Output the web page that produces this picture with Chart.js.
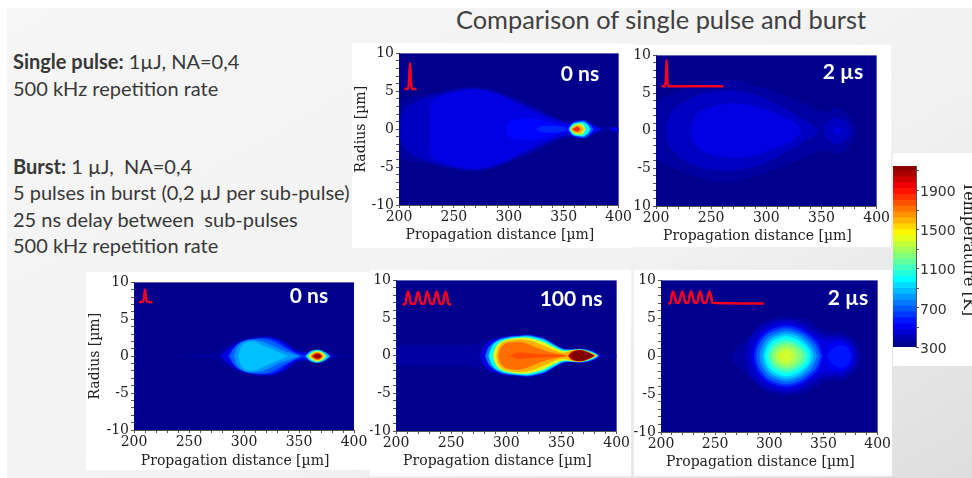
<!DOCTYPE html>
<html>
<head>
<meta charset="utf-8">
<script src="https://cdn.jsdelivr.net/npm/chart.js@4/dist/chart.umd.js"></script>
<style>
html, body { margin: 0; padding: 0; background: #fff; }
#slide { position: absolute; left: 7px; top: 8px; width: 965px; height: 470px; background: linear-gradient(150deg, #f6f6f6 0%, #f2f2f2 60%, #dedede 100%); overflow: hidden; }
#stage { position: absolute; left: 0; top: 0; width: 972px; height: 478px; overflow: hidden; font-family: Lato, sans-serif; color: #383838; }
.card { position: absolute; background: #fff; }
.card canvas { position: absolute; left: 0; top: 0; filter: blur(0.45px); }
.txt { position: absolute; left: 13px; font-size: 20px; line-height: 24px; white-space: pre; }
.tag { position: absolute; color: #fff; font-weight: bold; font-size: 21px; transform: translate(-50%, -50%); white-space: nowrap; }
#title { position: absolute; left: 456px; top: 4px; font-size: 25.4px; line-height: 30px; white-space: pre; color: #404040; }
</style>
</head>
<body>
<div id="stage">
  <div id="slide"></div>
  <div id="title">Comparison of single pulse and burst</div>
  <div class="txt" style="top:49px"><b>Single pulse:</b> 1µJ, NA=0,4</div>
  <div class="txt" style="top:76px">500 kHz repetition rate</div>
  <div class="txt" style="top:154px"><b>Burst:</b> 1 µJ,  NA=0,4</div>
  <div class="txt" style="top:180px">5 pulses in burst (0,2 µJ per sub-pulse)</div>
  <div class="txt" style="top:207px">25 ns delay between  sub-pulses</div>
  <div class="txt" style="top:233px">500 kHz repetition rate</div>
</div>
<script>
// isotherms: temperature [K], distance [um], half width [um]
const single0ns = [
  [360, [200,215,235,255,270,285,300,315,330,345,355,365,375,385,392,400], [3.7,4.3,4.9,5.4,5.55,5.2,4.4,3.5,2.5,1.4,1.1,1.1,.8,.35,.2,.2]],
  [420, [200.5,201,204,210,220,235,255,270,285,300,315,330,345,354,360], [0,1.2,2.3,3.1,3.9,4.6,5.2,5.35,5,4.2,3.2,2.2,1.2,.8,0]],
  [480, [228,228.4,231,240,255,270,285,300,315,330,345,355,362], [0,3.2,3.8,4.4,5,5.2,4.8,3.9,2.8,1.8,1,.6,0]],
  [480, [392,396,400], [0,.3,.15]],
  [540, [297.5,298.5,301,305,315,325,335,345,354], [0,.65,1,1.25,1.4,1.3,1,.55,0]],
  [600, [325,330,340,350,356], [0,.35,.4,.3,0]],
  [540, [352,356,362,368,372,378,384], [0,.7,1.1,1.15,.95,.4,0]],
  [700, [354,358,364,369,373,377], [0,.75,1,1.1,.7,0]],
  [1000, [355,358,363,368,372,374], [0,.65,.85,.9,.5,0]],
  [1350, [356,359,363,367,370], [0,.5,.7,.65,0]],
  [1600, [356.5,360,363,366,368], [0,.4,.5,.4,0]],
  [1850, [358,361,363,365], [0,.25,.3,0]]
];
const single2us = [
  [360, [200,215,235,260,285,312,335,348,355,364,371,376,380,381.4], [3.8,4.9,6,6.75,6.2,4.9,3.5,2.7,2.6,3.05,2.6,1.8,.8,0]],
  [420, [208.7,209.5,212,216,226,237,250,270,297,312,327,338,344.5,347], [0,1,2,2.8,3.9,4.7,5.1,5.3,4.4,3.3,2.05,1.1,.55,0]],
  [420, [352,353,356,360,364,368,372,375,376.5], [0,.7,1.2,1.55,1.7,1.55,1.2,.7,0]],
  [480, [231.5,232.5,235,241,255,270,285,297,310,321,328,331.5], [0,.9,1.7,2.6,3.3,3.6,3.35,2.9,2.2,1.5,.85,0]],
  [480, [361,362,364,366,367.5], [0,.35,.5,.35,0]]
];
const burst0ns = [
  [360, [238,255,272,278,285,292,300,310,320,330,340,349,358,367,378,385,400], [0,.12,.25,.7,1.5,2,2.4,2.6,2.7,2.5,1.8,.9,.6,.9,.45,.15,.1]],
  [480, [279,285,292,300,310,320,330,340,347,358,367,376,382], [0,.9,1.6,2.15,2.45,2.55,2.3,1.5,.7,.5,.8,.3,0]],
  [600, [285,292,300,310,320,330,338,346,355,367,379], [0,1.3,1.95,2.3,2.45,2.1,1.3,.5,.2,.7,0]],
  [700, [287,292,298,305,313,320,328,336,345,352], [0,1.3,1.95,2.25,2.35,2.3,1.9,1.2,.5,0]],
  [800, [291,294,298,303,310,318,326,334,342,350], [0,1.2,1.8,2.1,2.15,1.9,1.4,.8,.4,0]],
  [880, [295,297,300,304,310,316,324,332,340], [0,1.1,1.65,1.9,1.9,1.5,1,.5,0]],
  [900, [356,360,367,374,378], [0,.6,.85,.5,0]],
  [1200, [358,362,367,372,375], [0,.55,.75,.45,0]],
  [1500, [359,363,367,371,373.5], [0,.45,.6,.4,0]],
  [1800, [361,364,367,370,371.5], [0,.35,.45,.3,0]],
  [2100, [363,365,367,369,370], [0,.22,.28,.2,0]]
];
const burst100ns = [
  [360, [200,230,270,278,285,293,301,310,319,327,334,344,352,360,368,380,386,400], [1.3,1.35,1.4,1.8,2.2,2.45,2.6,2.75,2.8,2.65,2.4,1.6,1,.9,.95,.65,.2,.12]],
  [480, [276,280,285,293,301,310,319,327,334,344,352,360,368,379,385], [0,1.2,1.9,2.35,2.55,2.7,2.75,2.6,2.35,1.5,.95,.85,.9,.6,0]],
  [750, [281,284,288,295,303,312,319,327,335,345,352,360,368,378,384], [0,1.1,1.7,2.25,2.5,2.6,2.7,2.5,2.2,1.35,.85,.8,.85,.55,0]],
  [1000, [284,287,291,297,305,312,319,327,335,345,352,360,368,378,383], [0,1.2,1.8,2.15,2.4,2.5,2.55,2.35,2,1.2,.75,.75,.8,.45,0]],
  [1400, [288,290,293,298,306,313,319,327,335,345,352,360,368,377,382], [0,1,1.6,2,2.25,2.35,2.35,2.1,1.7,.95,.6,.7,.75,.35,0]],
  [1600, [291,293,296,301,308,315,322,330,338,346,352,358,368,377,381], [0,1.1,1.65,1.95,2.1,2.1,2,1.55,1.05,.55,.35,.6,.72,.3,0]],
  [1720, [293,295,299,304,312,320,328,336,345,353], [0,1,1.55,1.75,1.8,1.5,1,.6,.3,0]],
  [1780, [303,310,320,330,345,355], [0,.4,.3,.18,.1,0]],
  [2000, [356,360,368,376,380], [0,.55,.7,.3,0]],
  [2150, [358,361,368,375,379], [0,.5,.65,.35,0]]
];
const burst2us = [
  [360, [265,270,279,286,294,304,315,333,345,352,360,367,374,379,383,385], [0,1.1,2.2,3.3,4.4,4.95,5.2,4.85,3.8,3.3,3.2,3.2,2.7,2,1,0]],
  [420, [278,279.5,283,290,300,315,330,342,350,360,368,375,379.5,381], [0,1.3,2.5,3.6,4.4,4.8,4.4,3.3,2.8,2.6,2.6,2,1.1,0]],
  [480, [283,284.5,288,294,303,315,328,338,346,352,360,368,374,377,378.5], [0,1.2,2.3,3.3,4,4.4,4,3.1,2.4,2.15,2.1,2,1.4,.8,0]],
  [510, [351,353,357,365,371,375,377], [0,1.1,1.7,2,1.6,.9,0]],
  [570, [354,357,362,366,371,374,376], [0,.8,1.3,1.45,1.25,.7,0]],
  [600, [286,287.5,291,297,305,316,328,338,345,349], [0,1.2,2.2,3.1,3.7,4,3.6,2.7,1.7,0]],
  [700, [288,289.5,293,298,306,316,327,336,343,347], [0,1.1,2.05,2.85,3.4,3.7,3.3,2.5,1.5,0]],
  [800, [291,292.5,295.5,300,307,316,326,334,340,344], [0,1,1.85,2.55,3,3.3,2.95,2.25,1.35,0]],
  [900, [294,295.5,298,302,308,316,325,332,338,341], [0,.95,1.7,2.3,2.7,2.95,2.65,2,1.05,0]],
  [990, [296,297.5,300,304,309,316,324,331,336,338], [0,.9,1.55,2.05,2.4,2.6,2.3,1.7,.95,0]],
  [1070, [298,299.5,302,305,310,316,323,329,334,336], [0,.8,1.35,1.8,2.1,2.25,2,1.5,.8,0]],
  [1150, [300,301.5,303.5,307,311,316,322,328,332,333.5], [0,.75,1.2,1.6,1.8,1.95,1.75,1.25,.65,0]],
  [1230, [302,303.5,305.5,308,312,316,321,326,329,330], [0,.6,1,1.3,1.5,1.6,1.45,1,.5,0]],
  [1300, [305,306,308,310,313,316,320,323,325,326], [0,.45,.8,1,1.15,1.25,1.1,.85,.45,0]],
  [1370, [308,309,311,313,315,317,319,320.5,321], [0,.35,.6,.75,.85,.8,.6,.35,0]]
];

// red pulse sketches inside the plots
const single0nsPulseX = [205,208,209,209.5,210,210.5,211,212,216];
const single0nsPulseY = [5.3,5.3,6,7.5,8.7,7.5,6,5.3,5.3];
const single2usPulseX = [205,208,209,209.6,210.2,211,212,261];
const single2usPulseY = [5.9,5.9,7,9.4,7,5.9,5.9,5.9];
const burst0nsPulseX = [204.8,208,209.2,210,210.8,212,216.7];
const burst0nsPulseY = [7.3,7.4,8,9.05,8,7.4,7.3];
const burst100nsPulseX = [206,208.5,209.6,210.9,212.2,213.5,217,218.7,220,221.3,223,225.5,227.1,228.4,229.7,231.5,234,235.5,236.8,238.1,240,242.5,243.7,245,246.3,247.5,250];
const burst100nsPulseY = [6.8,6.9,7.9,8.5,7.9,6.9,6.9,7.9,8.5,7.9,6.9,6.9,7.9,8.5,7.9,6.9,6.9,7.9,8.5,7.9,6.9,6.9,7.9,8.5,7.9,6.9,6.8];
const burst2usPulseX = [206.6,208.8,209.9,211.2,212.5,214,216.5,218.3,219.6,220.9,222.5,225,226.5,227.8,229.1,231,233.5,234.7,236,237.3,239,241.5,243.4,244.7,246,247.5,294.8];
const burst2usPulseY = [6.95,7.05,8,8.55,8,7.05,7.05,8,8.55,8,7.05,7.05,8,8.55,8,7.05,7.05,8,8.55,8,7.05,7.05,8,8.55,8,7.05,6.95];

// colour bar
const barEdges = [300,360,420,480,540,600,660,720,780,840,900,960,1020,1080,1140,1200,1260,1320,1380,1440,1500,1560,1620,1680,1740,1800,1860,1920,1980,2040,2100,2150];
const barTicks = [300,500,700,900,1100,1300,1500,1700,1900,2100];
const barLabels = [300,700,1100,1500,1900];

const distanceLabels = [200,250,300,350,400];
const radiusLabels = [-10,-5,0,5,10];

const serif = "'DejaVu Serif', serif";

function jet(t) {
  const v = Math.min(1, Math.max(0, (t - 300) / 1850));
  const ramp = c => Math.round(255 * Math.min(1, Math.max(0, 1.5 - Math.abs(4 * v - c))));
  return `rgb(${ramp(3)},${ramp(2)},${ramp(1)})`;
}

const plotBackground = {
  id: 'plotBackground',
  beforeDatasetsDraw(chart) {
    const { ctx, chartArea: a } = chart;
    ctx.save();
    ctx.fillStyle = '#00008c';
    ctx.fillRect(a.left, a.top, a.right - a.left, a.bottom - a.top);
    ctx.restore();
  }
};

const stage = document.getElementById('stage');

function addCard(left, top, width, height) {
  const card = document.createElement('div');
  card.className = 'card';
  card.style.cssText = `left:${left}px;top:${top}px;width:${width}px;height:${height}px;overflow:hidden`;
  const canvas = document.createElement('canvas');
  canvas.width = width;
  canvas.height = height;
  canvas.style.width = width + 'px';
  canvas.style.height = height + 'px';
  card.appendChild(canvas);
  stage.appendChild(card);
  return canvas;
}

function addHeatmap(card, plot, isotherms, pulseX, pulseY, tag, showRadius, titleY) {
  const canvas = addCard(card[0], card[1], card[2], card[3]);
  const datasets = [];
  isotherms.forEach((iso, i) => {
    const color = jet(iso[0]);
    const shared = { backgroundColor: color, borderColor: color, borderWidth: 0.5, pointRadius: 0, tension: 0.35, order: 100 - i * 2 };
    datasets.push({ ...shared, data: iso[1].map((x, k) => ({ x, y: iso[2][k] })), fill: '+1' });
    datasets.push({ ...shared, data: iso[1].map((x, k) => ({ x, y: -iso[2][k] })), fill: false });
  });
  datasets.push({
    data: pulseX.map((x, k) => ({ x, y: pulseY[k] })),
    borderColor: '#f5001e', borderWidth: 2.5, pointRadius: 0, cubicInterpolationMode: 'monotone', fill: false, order: -1
  });

  new Chart(canvas, {
    type: 'line',
    data: { datasets },
    plugins: [plotBackground],
    options: {
      responsive: false,
      animation: false,
      layout: {
        autoPadding: false,
        padding: { top: plot[1] - card[1], right: card[0] + card[2] - plot[2], left: 0, bottom: 0 }
      },
      plugins: { legend: { display: false }, tooltip: { enabled: false } },
      scales: {
        x: {
          type: 'linear', min: 200, max: 400,
          afterFit: s => { s.height = card[1] + card[3] - plot[3]; },
          grid: { drawOnChartArea: false, tickLength: 3, tickColor: '#555' },
          border: { color: '#555' },
          ticks: {
            stepSize: 10, autoSkip: false, maxRotation: 0, padding: 1, color: '#222',
            font: { family: serif, size: 14 },
            callback: v => distanceLabels.includes(v) ? String(v) : ''
          },
          title: { display: true, text: 'Propagation distance [µm]\u00a0\u00a0\u00a0\u00a0', color: '#222', font: { family: serif, size: 14 }, padding: { top: 0, bottom: card[1] + card[3] - titleY - 9.4 } }
        },
        y: {
          min: -10, max: 10,
          afterFit: s => { s.width = plot[0] - card[0]; },
          grid: { drawOnChartArea: false, tickLength: 3, tickColor: '#555' },
          border: { color: '#555' },
          ticks: {
            stepSize: 1, autoSkip: false, padding: 2, color: '#222',
            font: { family: serif, size: 14 },
            callback: v => radiusLabels.includes(v) ? String(v) : ''
          },
          title: { display: showRadius, text: 'Radius [µm]', color: '#222', font: { family: serif, size: 14 }, padding: { top: 1, bottom: 0 } }
        }
      }
    }
  });

  const label = document.createElement('div');
  label.className = 'tag';
  label.textContent = tag[0];
  label.style.left = tag[1] + 'px';
  label.style.top = tag[2] + 'px';
  stage.appendChild(label);
}

// card [left, top, width, height], plot [left, top, right, bottom], tag [text, x, y]
addHeatmap([352, 43, 281, 205], [399, 51, 621, 205], single0ns, single0nsPulseX, single0nsPulseY, ['0 ns', 580, 72], true, 234);
addHeatmap([633, 45, 258, 202], [656, 53, 878, 206], single2us, single2usPulseX, single2usPulseY, ['2 µs', 843, 70], false, 235);
addHeatmap([86, 272, 284, 198], [134, 278, 354, 430], burst0ns, burst0nsPulseX, burst0nsPulseY, ['0 ns', 309, 294], true, 460);
addHeatmap([370, 270, 261, 206], [396, 278, 617, 431], burst100ns, burst100nsPulseX, burst100nsPulseY, ['100 ns', 571, 297], false, 460);
addHeatmap([634, 270, 258, 206], [661, 279, 882, 432], burst2us, burst2usPulseX, burst2usPulseY, ['2 µs', 848, 296], false, 461);

// colour bar: one floating bar per band on the same temperature scale
const barCanvas = addCard(893, 153, 79, 213);
new Chart(barCanvas, {
  type: 'bar',
  data: {
    labels: ['T'],
    datasets: barEdges.slice(0, -1).map((lo, i) => ({
      data: [[lo, barEdges[i + 1]]],
      backgroundColor: jet((lo + barEdges[i + 1]) / 2),
      grouped: false, barPercentage: 1, categoryPercentage: 1
    }))
  },
  options: {
    responsive: false,
    animation: false,
    layout: { autoPadding: false, padding: { top: 13, left: 0, right: 0, bottom: 19 } },
    plugins: { legend: { display: false }, tooltip: { enabled: false } },
    scales: {
      x: { display: false },
      y: {
        position: 'right', min: 300, max: 2150,
        afterFit: s => { s.width = 56; },
        afterBuildTicks: s => { s.ticks = barTicks.map(value => ({ value })); },
        grid: { drawOnChartArea: false, tickLength: 3, tickColor: '#555' },
        border: { color: '#555' },
        ticks: {
          autoSkip: false, padding: 1, labelOffset: 2, color: '#333',
          font: { family: "'DejaVu Sans', sans-serif", size: 14 },
          callback: v => barLabels.includes(v) ? String(v) : ''
        },
        title: { display: true, text: 'Temperature [K]\u00a0\u00a0\u00a0', color: '#222', font: { family: serif, size: 16 }, padding: { top: -6, bottom: 0 } }
      }
    }
  }
});
</script>
</body>
</html>
